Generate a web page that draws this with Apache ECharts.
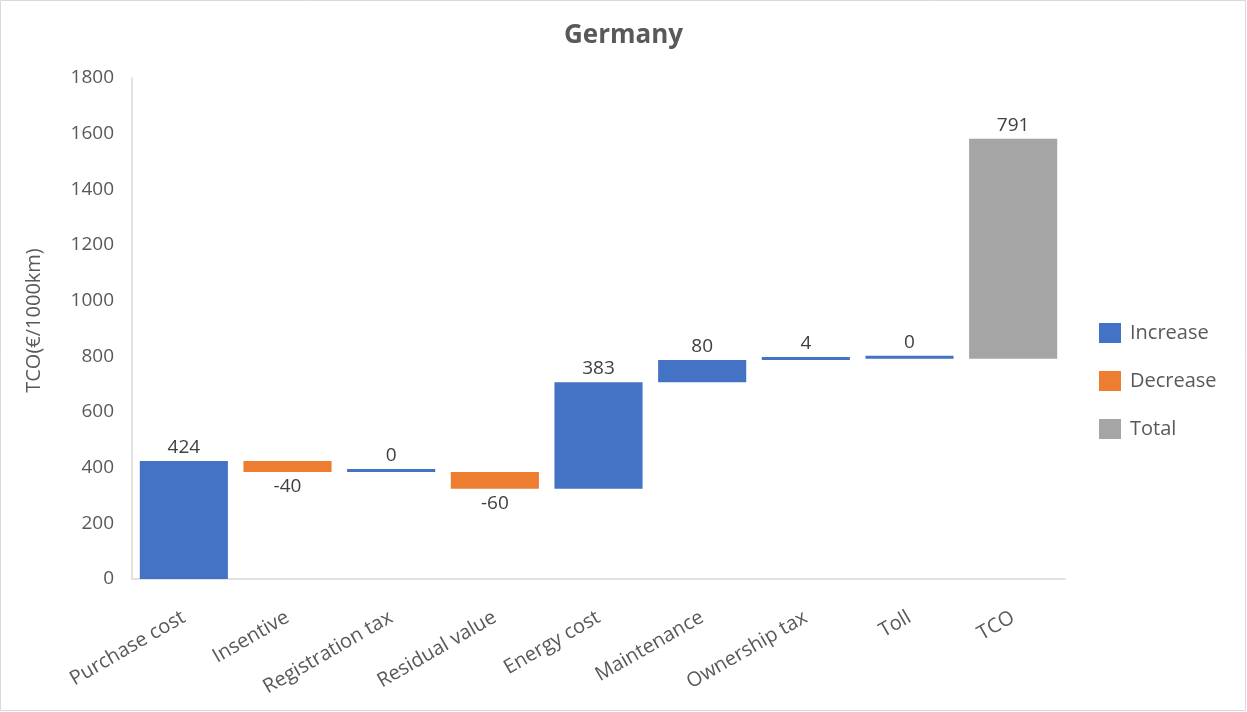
<!DOCTYPE html>
<html>
<head>
<meta charset="utf-8">
<title>Germany TCO waterfall</title>
<script src="https://cdn.jsdelivr.net/npm/echarts@6/dist/echarts.min.js"></script>
<style>
  html, body { margin: 0; padding: 0; background: #fff; }
  #chart { width: 1247px; height: 712px; }
</style>
</head>
<body>
<div id="chart"></div>
<script>
// Cost components (€/1000km)
const categories = ['Purchase cost', 'Insentive', 'Registration tax', 'Residual value',
                    'Energy cost', 'Maintenance', 'Ownership tax', 'Toll', 'TCO'];
const changes = [424, -40, 0, -60, 383, 80, 4, 0];
const totalValue = 791;
const yTicks = { min: 0, max: 1800, step: 200 };

// Build waterfall layers: invisible base + visible segment per category
const base = [], inc = [], dec = [], tot = [];
let running = 0;
changes.forEach(function (v) {
  const next = running + v;
  base.push(Math.min(running, next));
  if (v >= 0) { inc.push(v); dec.push('-'); } else { inc.push('-'); dec.push(-v); }
  tot.push('-');
  running = next;
});
// Total bar sits on top of the running sum
base.push(running);
inc.push('-'); dec.push('-'); tot.push(totalValue);

const FONT = 'Open Sans';
const TXT = '#595959';
const LBL = '#404040';

const chart = echarts.init(document.getElementById('chart'), null, { renderer: 'canvas' });
chart.setOption({
  backgroundColor: '#ffffff',
  animation: false,
  textStyle: { fontFamily: FONT },
  title: {
    text: 'Germany',
    left: 'center',
    top: 18,
    textStyle: { fontFamily: FONT, fontSize: 26, fontWeight: 'bold', color: TXT }
  },
  legend: {
    data: ['Increase', 'Decrease', 'Total'],
    orient: 'vertical',
    left: 1099,
    top: 323,
    padding: 0,
    icon: 'rect',
    itemWidth: 22,
    itemHeight: 20,
    itemGap: 28,
    textStyle: { fontFamily: FONT, fontSize: 20, lineHeight: 20, color: TXT, padding: [0, 0, 0, 4] }
  },
  graphic: [{
    type: 'rect',
    shape: { x: 0.5, y: 0.5, width: 1245, height: 710 },
    style: { fill: 'none', stroke: '#d9d9d9', lineWidth: 1 },
    silent: true
  }],
  grid: { left: 132, right: 182, top: 78, bottom: 133, containLabel: false },
  xAxis: {
    type: 'category',
    data: categories,
    axisLine: { lineStyle: { color: '#d9d9d9', width: 1.5 } },
    axisTick: { show: false },
    axisLabel: {
      rotate: 30,
      margin: 37,
      interval: 0,
      fontFamily: FONT,
      fontSize: 20,
      color: TXT
    }
  },
  yAxis: {
    type: 'value',
    min: yTicks.min,
    max: yTicks.max,
    interval: yTicks.step,
    name: 'TCO(€/1000km)',
    nameLocation: 'middle',
    nameGap: 88,
    nameTextStyle: { fontFamily: FONT, fontSize: 20, color: TXT, padding: [0, 0, 0, 16] },
    axisLine: { show: true, lineStyle: { color: '#d9d9d9', width: 1.5 } },
    axisTick: { show: false },
    splitLine: { show: false },
    axisLabel: {
      fontFamily: FONT, fontSize: 19, color: TXT, margin: 18,
      formatter: function (v) { return String(v); }
    }
  },
  series: [
    {
      name: 'Base',
      type: 'bar',
      stack: 'wf',
      data: base,
      barCategoryGap: '15%',
      itemStyle: { color: 'transparent' },
      emphasis: { disabled: true },
      silent: true
    },
    {
      name: 'Increase',
      type: 'bar',
      stack: 'wf',
      data: inc,
      barMinHeight: 3,
      itemStyle: { color: '#4472C4' },
      label: {
        show: true, position: 'top', distance: 4,
        fontFamily: FONT, fontSize: 19, color: LBL
      }
    },
    {
      name: 'Decrease',
      type: 'bar',
      stack: 'wf',
      data: dec,
      itemStyle: { color: '#ED7D31' },
      label: {
        show: true, position: 'bottom', distance: 5,
        fontFamily: FONT, fontSize: 19, color: LBL,
        formatter: function (p) { return changes[p.dataIndex]; }
      }
    },
    {
      name: 'Total',
      type: 'bar',
      stack: 'wf',
      data: tot,
      itemStyle: { color: '#A5A5A5' },
      label: {
        show: true, position: 'top', distance: 4,
        fontFamily: FONT, fontSize: 19, color: LBL
      }
    }
  ]
});
</script>
</body>
</html>
